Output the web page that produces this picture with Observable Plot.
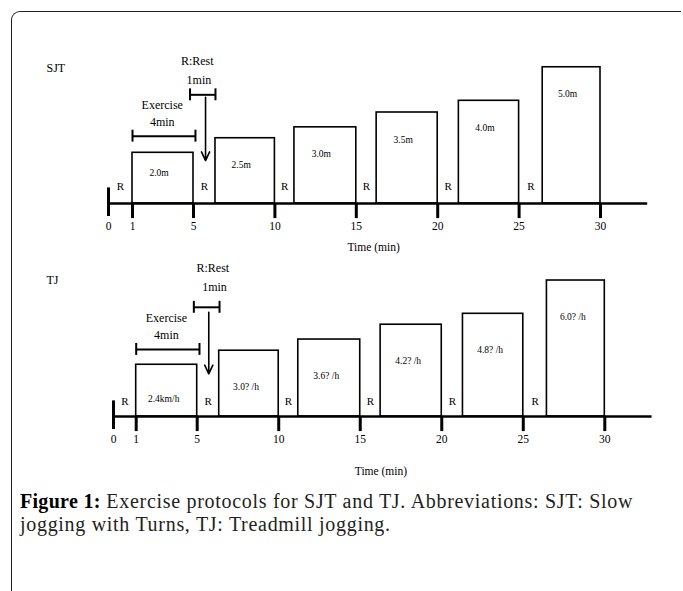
<!DOCTYPE html>
<html>
<head>
<meta charset="utf-8">
<script src="https://cdn.jsdelivr.net/npm/d3@7"></script>
<script src="https://cdn.jsdelivr.net/npm/@observablehq/plot@0.6"></script>
<style>
  html, body { margin: 0; padding: 0; background: #fff; }
  #wrap { position: relative; width: 683px; height: 591px; overflow: hidden; background: #fff; }
  #frame { position: absolute; left: 11px; top: 11px; width: 669px; height: 600px;
           border-top: 1.5px solid #222; border-left: 1.5px solid #222; border-top-left-radius: 9px; }
  .panel { position: absolute; left: 0; }
  #caption { position: absolute; left: 20px; top: 490px; font-family: "Liberation Serif", serif;
             font-size: 20px; letter-spacing: 0.7px; line-height: 22.5px; color: #231f20; white-space: nowrap; }
  #caption b { color: #000; letter-spacing: 0.3px; }
</style>
</head>
<body>
<div id="wrap">
  <div id="frame"></div>
  <div id="p1" class="panel" style="top:0px"></div>
  <div id="p2" class="panel" style="top:255px"></div>
  <div id="caption"><b>Figure 1:</b> Exercise protocols for SJT and TJ. Abbreviations: SJT: Slow<br>jogging with Turns, TJ: Treadmill jogging.</div>
</div>
<script>
// ---- data ----
const tickMinutes = [0, 1, 5, 10, 15, 20, 25, 30];
const exerciseStart = [1, 6.35, 11.2, 16.25, 21.3, 26.45];
const exerciseEnd = [5, 10, 15, 20, 25, 30];
const restStart = [0, 5, 10, 15, 20, 25];
const sjtLabels = ["2.0m", "2.5m", "3.0m", "3.5m", "4.0m", "5.0m"];
const sjtHeights = [1.95, 2.51, 2.93, 3.5, 3.95, 5.24];
const tjLabels = ["2.4km/h", "3.0? /h", "3.6? /h", "4.2? /h", "4.8? /h", "6.0? /h"];
const tjHeights = [1.99, 2.53, 2.96, 3.53, 3.95, 5.23];

const font = "Liberation Serif";

function makePanel(cfg) {
  const bars = exerciseStart.map((s, i) => ({
    start: s, end: exerciseEnd[i], h: cfg.heights[i], label: cfg.labels[i]
  }));
  const rests = restStart.map((s, i) => ({mid: (s + exerciseStart[i]) / 2}));
  const a = cfg.annot;
  const cap = 0.23;
  // the drawing stretches the first minute: warp time before the linear x scale
  const px = cfg.xPix; // pixel positions of minutes 0, 1, 5 and 30
  const per = (px[3] - px[0]) / 30;
  const warp = d3.scaleLinear()
    .domain([0, 1, 5, 30])
    .range([0, (px[1] - px[0]) / per, (px[2] - px[0]) / per, 30]);
  return Plot.plot({
    width: 683,
    height: cfg.height,
    margin: 0,
    style: {fontFamily: font, color: "#000", background: "transparent"},
    x: {type: "linear", transform: warp, domain: [0, 30], range: [px[0], px[3]], axis: null},
    y: {domain: [0, 5], range: [cfg.baseline, cfg.baseline - 130], axis: null},
    marks: [
      Plot.text([cfg.name], {frameAnchor: "top-left", dx: 46, dy: cfg.nameY, textAnchor: "start", fontSize: 12}),
      // bars
      Plot.rect(bars, {x1: "start", x2: "end", y1: 0, y2: "h", fill: "white", stroke: "#000", strokeWidth: 1.6}),
      Plot.text(bars.slice(0, 1), {x: d => (d.start + d.end) / 2, y: "h", text: "label", dy: cfg.firstLabelDy, dx: cfg.labelDx, fontSize: 9.5}),
      Plot.text(bars.slice(1), {x: d => (d.start + d.end) / 2, y: "h", text: "label", dy: cfg.labelDy, dx: cfg.labelDx, fontSize: 9.5}),
      // rest labels
      Plot.text(rests, {x: "mid", y: 0, text: () => "R", dy: cfg.rDy, fontSize: 11}),
      // axis
      Plot.ruleY([0], {x1: 0, x2: 32.9, stroke: "#000", strokeWidth: 2.6}),
      Plot.ruleX(tickMinutes.slice(1), {y1: 0, y2: -0.58, stroke: "#000", strokeWidth: 3}),
      Plot.ruleX(tickMinutes.slice(0, 1), {y1: -0.5, y2: 0.6, stroke: "#000", strokeWidth: 3}),
      Plot.text(tickMinutes, {x: d => d, y: 0, text: d => String(d), dy: 23, fontSize: 11.5}),
      Plot.text(["Time (min)"], {x: cfg.timeX, y: 0, dy: cfg.timeDy, fontSize: 11.5}),
      // annotations: exercise bracket
      Plot.text(["Exercise"], {x: a.exX, y: a.exY, fontSize: 12}),
      Plot.text(["4min"], {x: a.exX, y: a.exY - 0.67, fontSize: 12}),
      Plot.ruleY([a.exBrY], {x1: 1, x2: a.exBrEnd, stroke: "#000", strokeWidth: 2}),
      Plot.ruleX([1, a.exBrEnd], {y1: a.exBrY - cap, y2: a.exBrY + cap, stroke: "#000", strokeWidth: 2}),
      // annotations: rest bracket + arrow
      Plot.text(["R:Rest"], {x: a.rX, y: a.rY, fontSize: 12}),
      Plot.text(["1min"], {x: a.rX + 0.1, y: a.rY - 0.73, fontSize: 12}),
      Plot.ruleY([a.rBrY], {x1: a.rBr1, x2: a.rBr2, stroke: "#000", strokeWidth: 2}),
      Plot.ruleX([a.rBr1, a.rBr2], {y1: a.rBrY - cap, y2: a.rBrY + cap, stroke: "#000", strokeWidth: 2}),
      Plot.arrow([0], {x1: a.arX, x2: a.arX, y1: a.arY1, y2: a.arY2, stroke: "#000", strokeWidth: 1.6, headLength: 9, headAngle: 50})
    ]
  });
}

document.getElementById("p1").appendChild(makePanel({
  name: "SJT", nameY: 63, height: 255, baseline: 203,
  xPix: [108, 132, 193, 600],
  labels: sjtLabels, heights: sjtHeights,
  firstLabelDy: 20, labelDy: 27, labelDx: -4, rDy: -17,
  timeX: 16.06, timeDy: 44,
  annot: {exX: 2.95, exY: 3.8, exBrY: 2.59, exBrEnd: 5.12,
          rX: 5.23, rY: 5.46, rBrY: 4.18, rBr1: 4.77, rBr2: 6.35,
          arX: 5.74, arY1: 4.08, arY2: 1.65}
}));

document.getElementById("p2").appendChild(makePanel({
  name: "TJ", nameY: 20, height: 225, baseline: 161,
  xPix: [113, 135.7, 196.7, 604.3],
  labels: tjLabels, heights: tjHeights,
  firstLabelDy: 34, labelDy: 36, labelDx: -3, rDy: -15,
  timeX: 16.27, timeDy: 55,
  annot: {exX: 2.98, exY: 3.8, exBrY: 2.58, exBrEnd: 5.14,
          rX: 5.96, rY: 5.72, rBrY: 4.2, rBr1: 4.78, rBr2: 6.37,
          arX: 5.71, arY1: 4.01, arY2: 1.64}
}));
</script>
</body>
</html>
